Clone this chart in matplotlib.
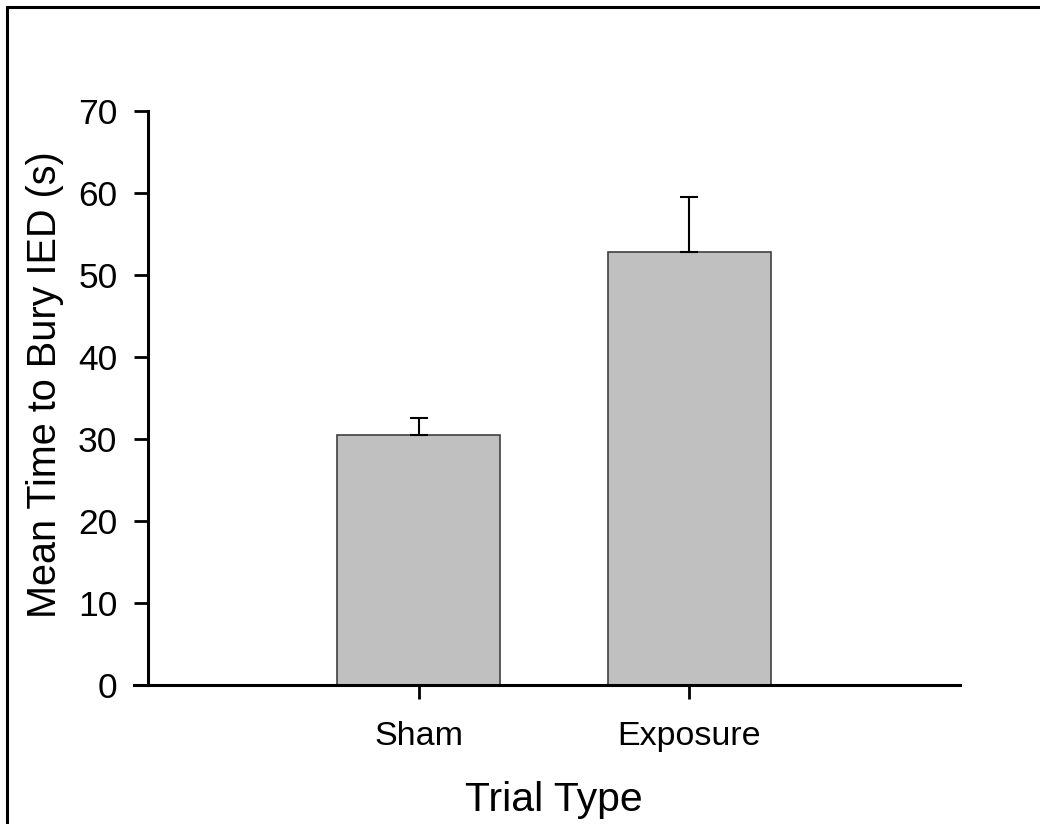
import matplotlib
matplotlib.use('Agg')
from matplotlib import pyplot as plt
from matplotlib.patches import Rectangle

categories = ['Sham', 'Exposure']
means = [30.5, 52.8]
errors = [2.1, 6.7]

plt.rcParams['font.family'] = ['Liberation Sans', 'DejaVu Sans']

fig = plt.figure(figsize=(10.4, 8.24), dpi=100)
W, H = 1040, 824
ax = fig.add_axes([148 / W, (H - 685) / H, (960 - 148) / W, (685 - 111) / H])

x = list(range(len(categories)))
ax.bar(x, means, width=0.6, color='#c0c0c0', edgecolor='#404040', linewidth=1.2, zorder=2)
ax.errorbar(x, means, yerr=[[0, 0], errors], fmt='none', ecolor='black',
            elinewidth=1.5, capsize=6.5, capthick=1.5, zorder=3)

ax.set_xlim(-1, 2)
ax.set_ylim(0, 70)
ax.set_yticks(range(0, 71, 10))
ax.set_xticks(x)
ax.set_xticklabels(categories, fontsize=24.5)
ax.tick_params(axis='y', labelsize=25.5, length=10, width=2, direction='out', pad=12)
ax.tick_params(axis='x', length=10, width=2, direction='out', pad=16)
for s in ['top', 'right']:
    ax.spines[s].set_visible(False)
for s in ['left', 'bottom']:
    ax.spines[s].set_linewidth(2.2)
ax.spines['bottom'].set_bounds(-1.05, 2)

ax.set_ylabel('Mean Time to Bury IED (s)', fontsize=28.5)
ax.yaxis.set_label_coords(-0.103, 0.523)
ax.set_xlabel('Trial Type', fontsize=29.5)
ax.xaxis.set_label_coords(0.5, -0.168)

# outer frame
fig.patches.append(Rectangle((7 / W, -0.1), 1.2, (H - 7) / H + 0.1, transform=fig.transFigure,
                             fill=False, edgecolor='black', linewidth=2.2))

fig.savefig('out.png', dpi=100)
